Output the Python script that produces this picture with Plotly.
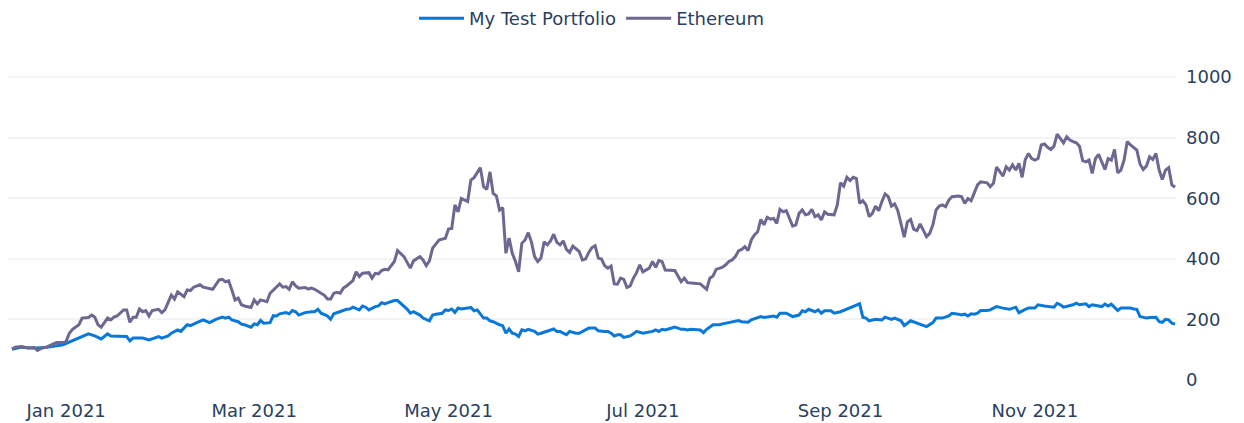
import pandas as pd
import plotly.graph_objects as go

base_date = "2021-01-01"

eth_day = [-17,-16,-14,-12,-10,-9,-8,-6,-4,-3,-1,0,1,2,4,5,7,8,9,10,11,13,14,15,16,18,19,20,21,22,23,24,25,26,27,29,30,31,33,34,35,37,38,39,40,42,43,
           46,48,49,50,51,52,53,54,55,56,58,59,60,61,63,64,66,67,68,69,70,71,72,73,75,76,77,78,80,81,82,83,84,85,86,87,88,90,91,92,93,95,96,97,98,99,100,101,103,104,
           106,108,109,111,112,113,114,115,117,119,120,121,122,123,124,126,127,128,130,131,132,133,134,135,136,137,138,139,140,141,142,143,144,145,146,147,148,149,150,
           151,152,153,154,155,156,157,158,159,161,162,163,164,165,166,167,168,169,170,171,172,173,174,175,176,177,178,179,180,181,183,184,185,186,187,188,189,191,192,
           193,194,195,197,199,200,201,202,203,204,206,207,208,209,210,211,212,213,214,215,216,217,218,219,220,221,222,223,224,225,226,227,228,229,230,231,232,233,234,
           235,236,237,238,239,241,242,243,244,245,246,247,248,249,250,251,252,253,254,255,256,257,258,259,260,261,262,263,264,265,266,267,268,269,270,271,272,273,274,
           275,276,277,278,280,281,282,283,284,285,286,287,289,290,291,292,293,294,295,296,297,298,299,300,301,302,303,304,305,306,307,308,309,310,311,312,313,314,315,
           316,317,318,319,320,321,322,323,324,325,326,327,328,329,330,331,332,333,334,336,337,338,339,340,341,342,343,344,345,346,347,348]
eth_val = [102,108,110,105,107,97,103,109,119,123,123,127,154,167,182,204,206,214,207,182,174,204,198,207,211,231,231,190,207,207,234,225,229,211,229,233,222,231,280,267,291,275,297,295,306,314,306,
           299,330,332,324,327,297,264,270,248,244,239,264,251,264,258,286,308,317,306,308,299,324,310,303,305,300,303,299,286,280,267,267,286,289,286,303,310,328,357,341,352,354,336,352,350,361,365,363,391,427,
           407,369,393,407,396,377,393,435,462,468,498,500,578,555,599,589,660,668,701,638,629,687,616,608,561,569,418,468,418,391,357,451,462,486,456,407,391,402,456,
           446,459,481,454,446,459,431,421,442,424,396,399,421,437,443,402,399,377,369,376,317,316,336,332,305,310,336,354,380,357,369,391,372,394,391,363,363,361,343,
           324,336,321,319,317,308,299,336,343,365,372,380,391,396,407,426,431,440,427,462,479,489,530,512,537,531,533,517,563,555,559,533,508,512,550,561,545,548,563,
           539,545,528,555,547,545,578,651,640,669,658,669,665,583,592,578,539,550,574,559,589,614,605,574,581,559,515,471,522,530,497,493,515,493,473,484,512,561,574,
           578,572,594,605,607,605,583,599,592,616,644,654,651,638,649,703,687,673,704,693,710,693,715,669,728,748,731,726,731,776,779,768,761,772,812,798,783,803,792,
           787,783,772,724,720,726,682,731,745,720,695,731,726,761,684,693,726,787,776,759,713,695,706,737,728,748,693,662,693,701,644,636]

port_day = [-17,-14,-11,-9,-6,-3,-1,7,9,11,13,14,16,19,20,21,24,26,29,30,32,33,35,36,38,39,41,43,45,47,49,50,51,52,54,55,56,58,59,60,61,62,64,65,66,67,69,70,71,72,73,75,77,78,79,80,
            82,83,84,86,87,88,89,90,92,93,94,95,97,98,99,100,101,103,104,105,107,108,109,111,112,114,115,116,118,119,120,121,122,123,124,126,127,128,129,131,132,133,134,136,137,
            138,139,140,141,142,143,144,145,147,148,149,151,153,154,155,156,157,158,160,161,163,164,166,167,169,170,171,172,173,174,175,177,178,179,181,182,184,185,186,187,188,
            189,191,192,193,194,195,196,198,199,200,201,203,205,206,208,210,211,212,214,215,217,218,219,221,222,223,224,226,227,228,230,231,232,233,235,236,237,238,240,241,243,
            249,250,251,252,254,256,257,259,260,262,263,264,265,270,271,272,273,275,277,278,280,281,282,283,284,285,286,287,289,290,291,292,294,296,298,299,301,302,304,305,307,
            309,310,311,312,313,315,316,317,318,320,321,322,324,325,326,327,328,330,331,332,334,335,336,337,339,340,342,343,344,345,346,347,348]
port_val = [101,108,105,105,108,113,116,152,145,135,152,145,145,143,129,138,138,132,143,138,145,154,165,160,182,179,189,198,189,200,207,204,207,198,192,184,182,174,185,182,196,187,189,212,211,218,222,218,229,225,214,222,225,225,233,220,
            211,200,218,225,231,233,234,240,231,244,240,231,242,244,255,251,255,262,262,252,234,220,225,214,204,195,214,217,220,231,229,234,223,237,234,237,239,228,231,204,204,195,192,182,179,
            154,168,154,151,143,165,162,167,160,151,154,162,168,160,160,154,149,160,154,154,165,171,171,162,160,160,154,145,149,149,140,145,152,160,154,156,160,165,160,167,165,
            168,174,171,167,167,165,167,165,165,156,167,182,182,185,189,192,196,192,190,198,206,209,206,211,211,207,220,220,214,209,214,228,225,233,225,231,220,228,228,220,225,
            251,207,204,195,200,198,207,200,204,195,179,187,195,176,182,189,204,204,211,220,217,214,217,211,218,217,220,229,229,231,237,242,237,233,240,222,233,237,237,248,244,
            240,240,253,248,240,244,248,253,248,251,242,248,245,242,250,244,250,229,237,237,237,234,233,209,204,206,207,192,190,200,198,187,184]

x_range = ["2020-12-13 18:00", "2021-12-15 07:00"]
y_range = [-60, 1050]

start = pd.Timestamp(base_date)
eth_dates = start + pd.to_timedelta(eth_day, unit="D")
port_dates = start + pd.to_timedelta(port_day, unit="D")

font_color = "#2a3f5f"
font_family = "DejaVu Sans, sans-serif"

fig = go.Figure()
fig.add_trace(go.Scatter(x=port_dates, y=port_val, mode="lines", name="My Test Portfolio",
                         line=dict(color="#0a78d8", width=3)))
fig.add_trace(go.Scatter(x=eth_dates, y=eth_val, mode="lines", name="Ethereum",
                         line=dict(color="#6e6791", width=3)))

fig.update_layout(
    width=1244, height=423,
    paper_bgcolor="white", plot_bgcolor="white",
    margin=dict(l=8, r=68, t=62, b=25, autoexpand=False),
    font=dict(family=font_family, size=18, color=font_color),
    showlegend=True,
    legend=dict(orientation="h", x=0.5, xanchor="center", y=1.129, yanchor="middle",
                itemwidth=45,
                font=dict(size=18, color=font_color), bgcolor="rgba(0,0,0,0)"),
    xaxis=dict(range=x_range, showgrid=False, zeroline=False, showline=False, ticks="",
               tickformat="%b %Y", dtick="M2", tick0="2021-01-01",
               tickfont=dict(size=18, color=font_color)),
    yaxis=dict(range=y_range, side="right", showgrid=True, gridcolor="#f4f4f4", gridwidth=1.5,
               zeroline=True, zerolinecolor="white", showline=False, ticks="",
               ticklabelstandoff=9,
               tick0=0, dtick=200, tickfont=dict(size=18, color=font_color)),
)

fig.write_html("out.html", config={"displayModeBar": False},
               post_script="document.body.style.margin='0';")
